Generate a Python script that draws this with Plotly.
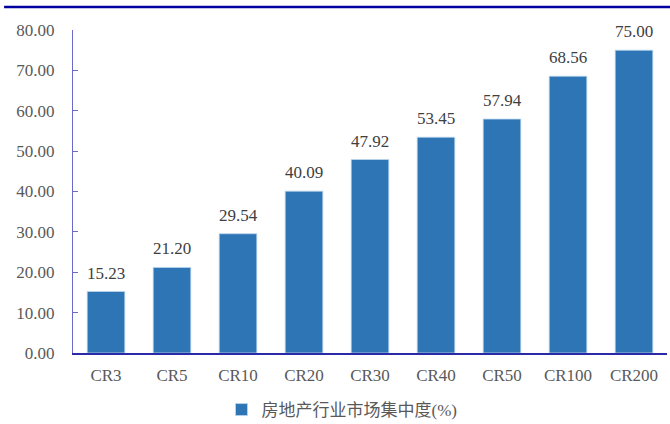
import plotly.graph_objects as go

# 房地产行业市场集中度
categories = ["CR3", "CR5", "CR10", "CR20", "CR30", "CR40", "CR50", "CR100", "CR200"]
values = [15.23, 21.20, 29.54, 40.09, 47.92, 53.45, 57.94, 68.56, 75.00]
series_name = "房地产行业市场集中度(%)"
y_ticks = [0, 10, 20, 30, 40, 50, 60, 70, 80]

serif = "Times New Roman, Liberation Serif, Noto Sans CJK SC, serif"

fig = go.Figure()
fig.add_trace(go.Bar(
    x=categories,
    y=values,
    name=series_name,
    marker=dict(color="#2E75B6", line=dict(color="#BDD7EE", width=0.8)),
    showlegend=True,
))

# value labels above the bars
for c, v in zip(categories, values):
    fig.add_annotation(
        x=c, y=v, text=f"{v:.2f}", showarrow=False,
        yanchor="bottom", yshift=7,
        font=dict(family=serif, size=17, color="#404040"),
    )

fig.update_layout(
    width=670,
    height=424,
    margin=dict(l=73, r=3, t=30, b=71, autoexpand=False),
    paper_bgcolor="white",
    plot_bgcolor="white",
    bargap=0.43,
    font=dict(family=serif, color="#595959"),
    legend=dict(
        orientation="h",
        x=0.25, xanchor="left",
        yref="container", y=0.033, yanchor="middle",
        font=dict(family=serif, size=17, color="#595959"),
        itemwidth=30,
    ),
    shapes=[
        # dark rule along the top of the picture
        dict(type="line", xref="paper", yref="paper",
             x0=-0.116, x1=1.01, y0=1.071, y1=1.071,
             line=dict(color="#0000A0", width=2.5)),
    ],
)

fig.update_xaxes(
    automargin=False,
    showline=True, linecolor="#2A2AA8", linewidth=2,
    ticks="", showgrid=False,
    tickfont=dict(family=serif, size=17, color="#595959"),
    ticklabelstandoff=6,
)
fig.update_yaxes(
    automargin=False,
    range=[0, 80],
    tickvals=y_ticks,
    ticktext=[f"{t:.2f}" for t in y_ticks],
    showline=True, linecolor="#6A6AC8", linewidth=1.2,
    ticks="inside", ticklen=5, tickcolor="#6A6AC8",
    showgrid=False, zeroline=False,
    tickfont=dict(family=serif, size=17, color="#595959"),
    ticklabelstandoff=14,
)

# drop the browser's default page margin so the figure sits at 0,0
fig.write_html("out.html", config={"displayModeBar": False},
               post_script="document.body.style.margin='0';")
